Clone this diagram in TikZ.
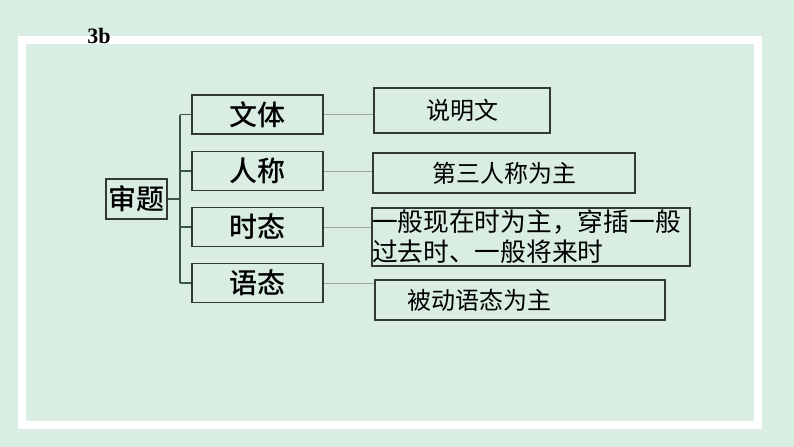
\documentclass[tikz,border=0pt]{standalone}
\usepackage{fontspec}
\setmainfont{Liberation Serif}
\newfontfamily\cjk{Noto Sans CJK SC}
\newfontfamily\cjkmed{Noto Sans CJK SC Medium}
\definecolor{mintbg}{HTML}{D9EDE2}
\definecolor{boxline}{HTML}{333833}
\definecolor{trunkline}{HTML}{3A5546}
\definecolor{linkline}{HTML}{9AA8A0}
\def\px{0.75pt}
\tikzset{
    topicbox/.style={draw=boxline, line width=1.2pt, minimum width=131*\px, minimum height=39*\px,
        inner sep=0pt, font=\cjkmed\fontsize{21}{25}\selectfont},
    answerbox/.style={draw=boxline, line width=0.9pt, inner sep=0pt,
        font=\cjk\fontsize{18}{22}\selectfont},
    trunk/.style={draw=trunkline, line width=1.2pt},
    link/.style={draw=linkline, line width=0.6pt}
}
\begin{document}
\begin{tikzpicture}[x=0.75pt, y=-0.75pt]
        % Background and white frame
        \fill[mintbg] (0,0) rectangle (794,447);
        \useasboundingbox (0,0) rectangle (794,447);
        \draw[white, line width=5.5pt] (22,40) rectangle (758,425);
        \node[anchor=base west, inner sep=0pt, font=\bfseries\fontsize{16.5}{18}\selectfont] (title) at (87,43) {3b};
    
        % Root node
        \node[draw=boxline, line width=1.2pt, minimum width=61*\px, minimum height=40*\px, inner sep=0pt,
            font=\cjkmed\fontsize{21}{25}\selectfont] (shenti) at (136.5,199) {审题};
    
        % Topic boxes
        \node[topicbox] (wenti) at (257.5,114.5) {文体};
        \node[topicbox] (renchen) at (257.5,171) {人称};
        \node[topicbox] (shitai) at (257.5,227) {时态};
        \node[topicbox] (yutai) at (257.5,283) {语态};
    
        % Answer boxes
        \node[answerbox, minimum width=176*\px, minimum height=45*\px] (shuoming) at (462,110.5) {说明文};
        \node[answerbox, minimum width=262*\px, minimum height=40*\px] (disan) at (504,173) {第三人称为主};
        \node[answerbox, text width=318*\px, minimum height=58*\px, align=left,
            font=\cjk\fontsize{19.3}{22.5}\selectfont] (yiban) at (531,237) {一般现在时为主，穿插一般\\过去时、一般将来时};
        \node[answerbox, text width=226*\px, inner xsep=32*\px, minimum height=40*\px, align=left] (beidong) at (520,300) {被动语态为主};
    
        % Tree lines
        \coordinate (fork) at (180,199);
        \draw[trunk] (shenti.east) -- (fork);
        \draw[trunk] (fork |- wenti.west) -- (fork |- yutai.west);
        \foreach \t in {wenti,renchen,shitai,yutai}
            \draw[trunk] (fork |- \t.west) -- (\t.west);
    
        % Links to the answers
        \draw[link] (wenti.east) -- (wenti.east -| shuoming.west);
        \draw[link] (renchen.east) -- (renchen.east -| disan.west);
        \draw[link] (shitai.east) -- (shitai.east -| yiban.west);
        \draw[link] (yutai.east) -- (yutai.east -| beidong.west);
\end{tikzpicture}
\end{document}
